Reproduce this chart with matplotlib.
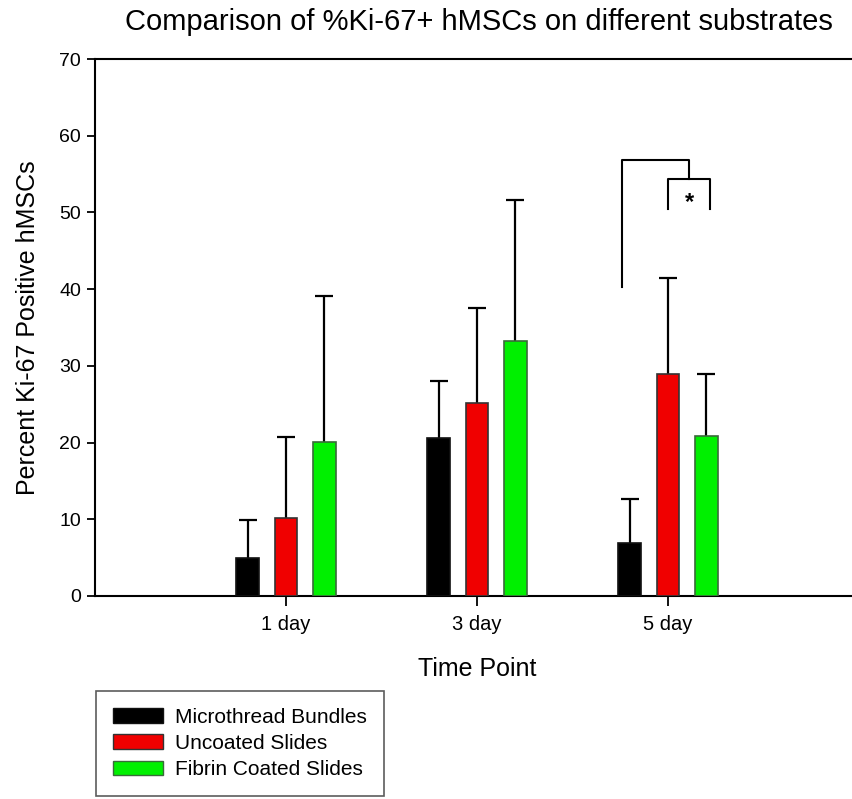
import numpy as np
import matplotlib
matplotlib.use("Agg")
import matplotlib.pyplot as plt
from matplotlib.patches import Patch

plt.rcParams['font.family'] = ['Liberation Sans', 'DejaVu Sans']

categories = ["1 day", "3 day", "5 day"]
series_names = ["Microthread Bundles", "Uncoated Slides", "Fibrin Coated Slides"]
microthread = [4.9, 20.6, 6.9]
microthread_err = [5.0, 7.4, 5.7]
uncoated = [10.2, 25.2, 29.0]
uncoated_err = [10.5, 12.4, 12.4]
fibrin = [20.1, 33.3, 20.9]
fibrin_err = [19.0, 18.3, 8.0]
colors = ["#000000", "#f00000", "#00f000"]
edges = ["#111111", "#333333", "#3a6a3a"]

fig = plt.figure(figsize=(8.52, 7.99), dpi=100)
ax = fig.add_axes([95/852, 203/799, 764/852, 537/799])

x = np.arange(1, len(categories) + 1)
offsets = [-0.2, 0.0, 0.2]
width = 0.12
vals = [microthread, uncoated, fibrin]
errs = [microthread_err, uncoated_err, fibrin_err]
for i in range(3):
    xs = x + offsets[i]
    ax.bar(xs, vals[i], width=width, color=colors[i], edgecolor=edges[i],
           linewidth=1.2, zorder=3)
    eb = ax.errorbar(xs, vals[i], yerr=[np.zeros(3), errs[i]], fmt='none',
                     ecolor='black', elinewidth=1.6, capsize=6.5,
                     capthick=1.6, zorder=2)
    eb[1][0].set_visible(False)

# significance brackets (day 5)
xb, xr, xg = 3 + offsets[0] - 0.04, 3 + offsets[1], 3 + offsets[2] + 0.02
xm = (xr + xg) / 2
lk = dict(color='black', lw=1.5, zorder=4)
ax.plot([xb, xb, xm, xm], [40.3, 56.8, 56.8, 54.3], **lk)
ax.plot([xr, xr, xg, xg], [50.4, 54.3, 54.3, 50.4], **lk)
ax.text(xm, 51.3, "*", ha='center', va='center', fontsize=17, fontweight='bold')

ax.set_xlim(0, 4)
ax.set_ylim(0, 70)
ax.set_xticks(x)
ax.set_xticklabels(categories, fontsize=14.5)
ax.set_yticks(np.arange(0, 71, 10))
ax.tick_params(axis='y', labelsize=14, length=6, width=1.3, pad=4)
ax.tick_params(axis='x', length=7, width=1.3, pad=7)
for s in ax.spines.values():
    s.set_linewidth(1.5)

ax.set_xlabel("Time Point", fontsize=18, labelpad=16)
ax.set_ylabel("Percent Ki-67 Positive hMSCs", fontsize=18, labelpad=14)
fig.text(479/852, 1 - 22/799, "Comparison of %Ki-67+ hMSCs on different substrates",
         ha='center', va='center', fontsize=21)

handles = [Patch(facecolor=colors[i], edgecolor=edges[i]) for i in range(3)]
leg = fig.legend(handles, series_names, loc='upper left',
                 bbox_to_anchor=(96/852, 1 - 691/799), fontsize=15,
                 frameon=True, fancybox=False, edgecolor='#333333',
                 handlelength=2.4, handleheight=0.7, handletextpad=0.6,
                 labelspacing=0.35, borderpad=0.8, borderaxespad=0)
leg.get_frame().set_linewidth(1.2)

fig.savefig("out.png", dpi=100)
